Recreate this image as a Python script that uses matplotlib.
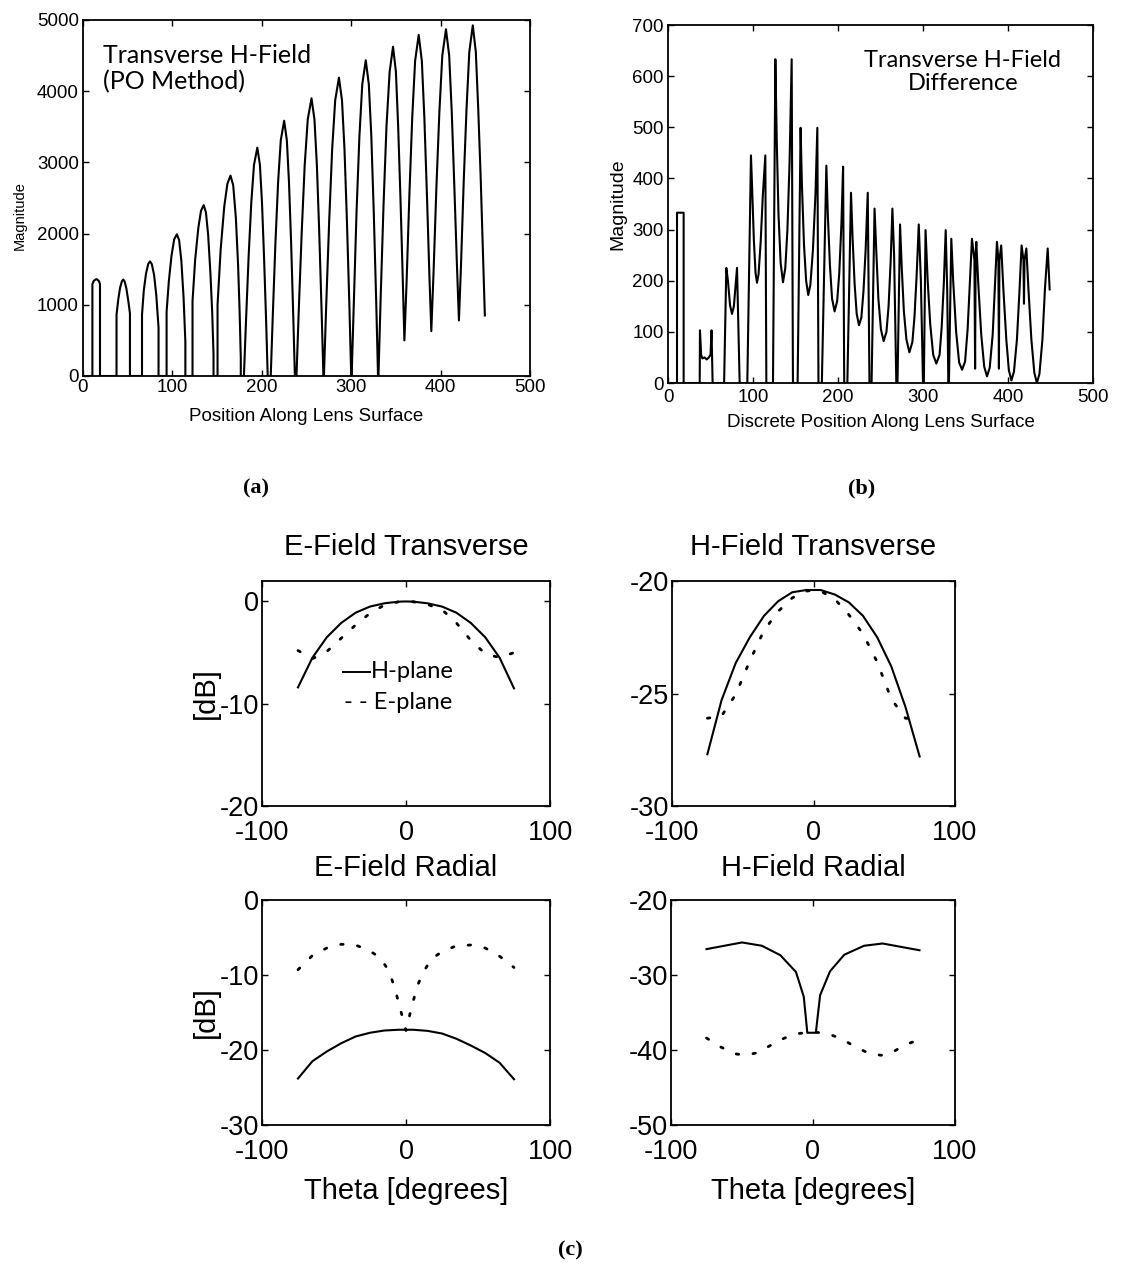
import matplotlib
matplotlib.use("Agg")
import matplotlib.pyplot as plt
from matplotlib.lines import Line2D

plt.rcParams['font.family'] = ['Liberation Sans', 'DejaVu Sans']
plt.rcParams['axes.unicode_minus'] = False

# ---- (a) transverse H-field, PO method: position vs magnitude ----
pos_a = [1,
         10.5, 10.5, 12, 14, 15, 16, 18, 19, 19,
         37.5, 37.5, 39.5, 41.5, 43.5, 45, 46.5, 48.5, 50.5, 52.5, 52.5,
         66, 66, 68, 70.5, 73, 75, 77, 79.5, 82, 84.5, 84.5,
         93.5, 93.5, 96, 99, 102, 105, 107.5, 110, 112.5, 114.5, 114.5,
         122.5, 122.5, 125.5, 129, 132, 135, 137.5, 140, 142.5, 144.5, 146, 146,
         150.5, 150.5, 154, 158, 161.5, 165, 168, 171, 173.5, 175.2, 176.5, 176.5,
         180, 182.25, 185.25, 188.25, 191.25, 195, 197.9, 200.2, 202.5, 204.9, 206.6,
         210, 212.25, 215.25, 218.25, 221.25, 225, 228, 230.4, 232.8, 235.2, 237,
         238.8, 241.3, 244.7, 248, 251.4, 255.6, 258.9, 261.6, 264.2, 266.9, 268.9,
         269.5, 272, 275.4, 278.7, 282.1, 286.3, 289.7, 292.5, 295.2, 298, 300,
         300.5, 302.9, 306, 309.2, 312.4, 316.3, 319.7, 322.5, 325.2, 328, 330,
         330.5, 332.9, 336.2, 339.5, 343, 346.8, 350, 352.5, 355.1, 357.6, 359.5,
         361.9, 365.1, 368.3, 371.5, 375.5, 379, 381.8, 384.7, 387.5, 389.6,
         392.1, 395.3, 398.6, 401.9, 406, 409.6, 412.5, 415.4, 418.3, 420.5,
         422.8, 425.9, 429, 432.1, 436, 439.4, 442.1, 444.8, 447.5, 449.5]
mag_a = [0,
         0, 1290, 1335, 1355, 1360, 1355, 1330, 1290, 0,
         0, 860, 1080, 1240, 1330, 1355, 1330, 1230, 1070, 880, 0,
         0, 860, 1200, 1440, 1575, 1610, 1570, 1420, 1130, 680, 0,
         0, 900, 1330, 1690, 1920, 1990, 1910, 1620, 1100, 480, 0,
         0, 1050, 1640, 2080, 2320, 2400, 2300, 1980, 1450, 900, 300, 0,
         0, 1000, 1780, 2380, 2700, 2815, 2680, 2220, 1550, 900, 250, 0,
         0, 747, 1675, 2438, 2964, 3208, 2964, 2438, 1675, 747, 0,
         0, 835, 1871, 2725, 3313, 3585, 3313, 2725, 1871, 835, 0,
         0, 909, 2036, 2964, 3604, 3900, 3604, 2964, 2036, 909, 0,
         0, 976, 2187, 3184, 3872, 4190, 3872, 3184, 2187, 976, 0,
         0, 1033, 2315, 3371, 4098, 4435, 4098, 3371, 2315, 1033, 0,
         0, 1078, 2414, 3515, 4274, 4625, 4274, 3515, 2500, 1400, 500,
         1300, 2550, 3640, 4426, 4790, 4426, 3640, 2550, 1400, 630,
         1450, 2650, 3700, 4500, 4870, 4500, 3700, 2650, 1550, 780,
         1550, 2750, 3750, 4550, 4925, 4550, 3750, 2800, 1650, 850]

# ---- (b) transverse H-field difference ----
pos_b = [1, 10.6, 10.6, 18.4, 18.4,
         37.3, 37.6, 39, 40.5, 43, 45.5, 48, 50, 51.2, 52.5,
         66, 68.6, 70.5, 73, 75.3, 77.5, 79.5, 81.2, 84.3,
         93.3, 97.6, 99, 101, 103, 104.7, 106.5, 109, 111.5, 114.5, 115.7,
         123.5, 126.3, 128, 130, 132.5, 135.3, 138, 140.5, 143, 145.5, 147,
         152.5, 156, 157.5, 160, 162.5, 165, 167.5, 170.5, 173.5, 175.7, 177,
         181, 186.3, 188, 190.5, 193, 196, 199, 201.5, 204, 206, 207.3,
         211, 215.3, 217, 219.5, 222, 224.7, 227.5, 230, 232.5, 235, 237,
         239.5, 243, 245, 247.5, 250.5, 253.7, 257, 259.5, 262, 264, 266, 268.6,
         270, 273, 275, 277.5, 280.5, 284, 287.5, 290, 292.5, 295, 297.5, 300,
         301, 303, 305.5, 308.5, 312, 315.7, 319.5, 322, 324.5, 326.7, 328.5, 329.8,
         330.5, 333.3, 335.5, 339, 342.5, 346, 349.5, 352.5, 355, 357.6,
         360.5, 361.3, 361.9, 362.7,
         365, 368.5, 372, 375.3, 378.5, 382, 384.5, 387,
         388.7, 389.3, 389.9, 392,
         394.5, 398, 401, 404, 407, 410.5, 413.5, 416,
         418.2, 418.8, 419.4, 421.6,
         424, 427.5, 431, 434, 437, 440.5, 443.5, 446.7, 449]
mag_b = [0, 0, 333, 333, 0,
         0, 103, 55, 48, 50, 46, 50, 55, 103, 0,
         0, 225, 200, 152, 135, 150, 192, 225, 0,
         0, 445, 380, 280, 215, 196, 212, 275, 365, 445, 0,
         0, 633, 470, 330, 235, 197, 225, 300, 430, 633, 0,
         0, 499, 390, 270, 200, 172, 192, 260, 370, 499, 0,
         0, 425, 330, 230, 165, 140, 160, 215, 310, 423, 0,
         0, 372, 290, 195, 135, 113, 128, 180, 260, 372, 0,
         0, 341, 260, 165, 105, 82, 100, 150, 240, 341, 250, 0,
         0, 310, 225, 140, 85, 60, 80, 130, 210, 310, 200, 0,
         0, 299, 200, 115, 55, 38, 55, 110, 195, 299, 180, 0,
         0, 282, 200, 100, 40, 26, 42, 105, 190, 282,
         240, 28, 250, 276,
         195, 95, 32, 13, 30, 95, 185, 276,
         240, 28, 240, 269,
         185, 85, 25, 5, 22, 85, 180, 269,
         240, 155, 240, 263,
         185, 85, 20, 0, 18, 85, 185, 263, 183]

# ---- (c) pattern cuts, theta in degrees, values in dB ----
theta = [-75, -65, -55, -45, -35, -25, -15, -5, 0, 5, 15, 25, 35, 45, 55, 65, 75]

et_h = [-8.4, -5.5, -3.5, -2.1, -1.1, -0.5, -0.18, -0.02, 0, -0.02, -0.18, -0.5, -1.1, -2.1, -3.5, -5.5, -8.5]
et_e = [-4.8, -5.6, -4.9, -3.6, -2.3, -1.15, -0.35, -0.03, 0, -0.03, -0.3, -0.8, -2.1, -3.8, -5.1, -5.5, -5.0]

ht_h = [-27.7, -25.3, -23.65, -22.5, -21.55, -20.9, -20.5, -20.4, -20.4, -20.4, -20.6, -20.95, -21.55, -22.5, -23.8, -25.6, -27.8]
ht_e = [-26.1, -26.0, -25.05, -23.55, -22.2, -21.35, -20.75, -20.45, -20.4, -20.45, -20.8, -21.5, -22.35, -23.6, -25.25, -26.1, -26.15]

er_h = [-23.8, -21.5, -20.2, -19.1, -18.2, -17.7, -17.4, -17.3, -17.3, -17.3, -17.45, -17.8, -18.5, -19.4, -20.4, -21.7, -23.9]
theta_er_e = [-75, -65, -55, -45, -35, -25, -18, -12, -8, -4, 0, 4, 8, 12, 18, 25, 35, 45, 55, 65, 75]
er_e = [-9.3, -7.4, -6.4, -5.9, -6.0, -6.8, -7.7, -9.4, -11.6, -14.5, -17.4, -14.2, -11.4, -9.6, -7.8, -6.9, -6.1, -6.0, -6.4, -7.5, -9.0]

theta_hr_h = [-75, -50, -36, -23, -12, -6.5, -4, 2, 5, 12, 22, 36, 49, 75]
hr_h = [-26.55, -25.66, -26.1, -27.36, -29.6, -32.9, -37.7, -37.7, -32.7, -29.5, -27.3, -26.1, -25.8, -26.7]
theta_hr_e = [-75, -65, -55, -48, -40, -30, -20, -10, 0, 10, 20, 30, 40, 48, 55, 65, 75]
hr_e = [-38.4, -39.6, -40.5, -40.7, -40.4, -39.4, -38.4, -37.8, -37.6, -37.8, -38.5, -39.6, -40.5, -40.7, -40.4, -39.3, -38.6]

W, H = 1138, 1268
fig = plt.figure(figsize=(W / 100, H / 100), dpi=100)


def box(x0, y0, x1, y1):
    # pixel box (top-left origin) -> figure fraction rect
    return [x0 / W, 1 - y1 / H, (x1 - x0) / W, (y1 - y0) / H]


def style(ax, size, lw=1.3):
    for s in ax.spines.values():
        s.set_linewidth(lw)
    ax.tick_params(direction='in', top=True, right=True, length=4, width=1,
                   labelsize=size, pad=3)


dot_style = dict(color='black', lw=2.0, linestyle=(0, (0.9, 5.2)), dash_capstyle='round')
line_style = dict(color='black', lw=1.5)

# (a)
ax = fig.add_axes(box(83, 20, 530, 376))
ax.plot(pos_a, mag_a, **line_style)
ax.set_xlim(0, 500)
ax.set_ylim(0, 5000)
ax.set_xticks(range(0, 501, 100))
ax.set_yticks(range(0, 5001, 1000))
style(ax, 13.5)
ax.tick_params(axis='x', pad=2)
ax.set_xlabel('Position Along Lens Surface', fontsize=13.5, labelpad=9)
ax.set_ylabel('Magnitude', fontsize=10.5, labelpad=4)
ax.yaxis.set_label_coords(-0.125, 0.45)
ax.text(22, 4660, 'Transverse H-Field\n(PO Method)', family='Lato', fontsize=18,
        ha='left', va='top', linespacing=1.15)

# (b)
ax = fig.add_axes(box(668, 25, 1093, 383))
ax.plot(pos_b, mag_b, **line_style)
ax.set_xlim(0, 500)
ax.set_ylim(0, 700)
ax.set_xticks(range(0, 501, 100))
ax.set_yticks(range(0, 701, 100))
style(ax, 13.5)
ax.tick_params(axis='x', pad=4)
ax.set_xlabel('Discrete Position Along Lens Surface', fontsize=13.5, labelpad=6)
ax.set_ylabel('Magnitude', fontsize=14, labelpad=4)
ax.text(347, 652, 'Transverse H-Field\nDifference', family='Lato', fontsize=17,
        ha='center', va='top', linespacing=1.15)

fig.text(256 / W, 1 - 488 / H, '(a)', family='Liberation Serif', weight='bold',
         fontsize=16, ha='center', va='center')
fig.text(862 / W, 1 - 488 / H, '(b)', family='Liberation Serif', weight='bold',
         fontsize=16, ha='center', va='center')
fig.text(570 / W, 1 - 1250 / H, '(c)', family='Liberation Serif', weight='bold',
         fontsize=16, ha='center', va='center')

# (c) four pattern panels
panels = [
    (box(262, 581, 550, 806), 'E-Field Transverse', (-20, 2), [-20, -10, 0],
     theta, et_h, theta, et_e, True, False, 19),
    (box(672, 581, 955, 806), 'H-Field Transverse', (-30, -20), [-30, -25, -20],
     theta, ht_h, theta, ht_e, False, False, 19),
    (box(262, 900, 550, 1125), 'E-Field Radial', (-30, 0), [-30, -20, -10, 0],
     theta, er_h, theta_er_e, er_e, True, True, 17),
    (box(671, 900, 955, 1125), 'H-Field Radial', (-50, -20), [-50, -40, -30, -20],
     theta_hr_h, hr_h, theta_hr_e, hr_e, False, True, 17),
]

for rect, title, ylim, yticks, th_h, v_h, th_e, v_e, left, bottom, tpad in panels:
    ax = fig.add_axes(rect)
    ax.plot(th_h, v_h, **line_style)
    ax.plot(th_e, v_e, **dot_style)
    ax.set_xlim(-100, 100)
    ax.set_ylim(*ylim)
    ax.set_xticks([-100, 0, 100])
    ax.set_yticks(yticks)
    style(ax, 19.5)
    ax.tick_params(axis='x', pad=10)
    ax.tick_params(axis='y', pad=2)
    ax.set_title(title, fontsize=21, pad=tpad)
    if left:
        ax.set_ylabel('[dB]', fontsize=21, labelpad=0)
    if bottom:
        ax.set_xlabel('Theta [degrees]', fontsize=21, labelpad=9)
    if title == 'E-Field Transverse':
        # hand-made key, as in the original figure
        ax.add_line(Line2D([0.281, 0.376], [0.596, 0.596], transform=ax.transAxes,
                           color='black', lw=1.4))
        ax.text(0.378, 0.596, 'H-plane', transform=ax.transAxes, family='Lato',
                fontsize=17, va='center')
        ax.text(0.285, 0.458, '- - E-plane', transform=ax.transAxes, family='Lato',
                fontsize=17, va='center')

fig.savefig('out.png', dpi=100)
